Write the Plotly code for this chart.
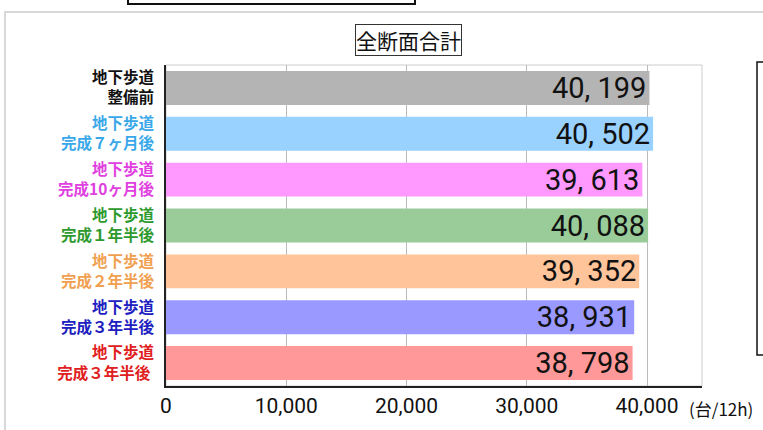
import plotly.graph_objects as go

categories = ["地下歩道<br>整備前", "地下歩道<br>完成７ヶ月後", "地下歩道<br>完成10ヶ月後",
              "地下歩道<br>完成１年半後", "地下歩道<br>完成２年半後", "地下歩道<br>完成３年半後",
              "地下歩道<br>完成３年半後 "]
values = [40199, 40502, 39613, 40088, 39352, 38931, 38798]
bar_colors = ["#B4B4B4", "#99D2FF", "#FF99FF", "#99CC99", "#FFC499", "#9999FF", "#FF9999"]
label_colors = ["#111111", "#3AA8E8", "#E040E0", "#2E9A2E", "#F0A050", "#2020C0", "#E02020"]
tick_vals = [0, 10000, 20000, 30000, 40000]
tick_text = ["0", "10,000", "20,000", "30,000", "40,000"]
title_text = "全断面合計"
unit_text = "(台/12h)"

value_text = [f"{v:,}".replace(",", ", ") for v in values]
ids = list(range(len(categories)))
ytext = [f"<span style='color:{c}'>{t}</span>" for t, c in zip(categories, label_colors)]

NUMFONT = "Roboto, Liberation Sans, sans-serif"

fig = go.Figure(go.Bar(
    x=values, y=ids, orientation="h",
    marker=dict(color=bar_colors, line=dict(width=0)),
    text=value_text, textposition="inside", insidetextanchor="end",
    constraintext="none",
    textfont=dict(family=NUMFONT, size=29, color="#111111"),
    cliponaxis=False,
))

L, R, T, B = 166, 61, 65, 44
W, H = 763, 430
pw, ph = W - L - R, H - T - B

def px(x):
    return (x - L) / pw

def py(y):
    return (H - B - y) / ph

fig.update_layout(
    width=W, height=H,
    margin=dict(l=L, r=R, t=T, b=B),
    paper_bgcolor="white", plot_bgcolor="white",
    showlegend=False, bargap=0.26,
    font=dict(family="Noto Sans CJK JP"),
    xaxis=dict(range=[0, 44570], tickvals=tick_vals, ticktext=tick_text,
               showgrid=True, gridcolor="#BBBBBB", gridwidth=1,
               showline=True, linecolor="#222222", linewidth=2, mirror=False,
               ticks="", zeroline=False,
               tickfont=dict(family=NUMFONT, size=21, color="#111111")),
    yaxis=dict(tickvals=ids, ticktext=ytext, autorange="reversed",
               showline=True, linecolor="#222222", linewidth=2, ticks="",
               showgrid=False, zeroline=False, ticklabelstandoff=7,
               tickfont=dict(family="Noto Sans CJK JP", size=15.5, weight=700)),
    shapes=[
        dict(type="rect", xref="paper", yref="paper", x0=0, x1=1, y0=0, y1=1,
             line=dict(color="#CCCCCC", width=1), layer="below"),
        dict(type="rect", xref="paper", yref="paper", x0=px(5), x1=px(790), y0=py(460), y1=py(12),
             line=dict(color="#D8D8D8", width=2)),
        dict(type="rect", xref="paper", yref="paper", x0=px(128), x1=px(415), y0=py(4), y1=py(-20),
             line=dict(color="#111111", width=2)),
        dict(type="rect", xref="paper", yref="paper", x0=px(757), x1=px(800), y0=py(355), y1=py(62),
             line=dict(color="#111111", width=1.5)),
    ],
    annotations=[
        dict(text=title_text, xref="paper", yref="paper", x=px(408), y=py(40),
             xanchor="center", yanchor="middle",
             showarrow=False, font=dict(family="Noto Sans CJK JP", size=21, color="#111111"),
             bordercolor="#333333", borderwidth=1, borderpad=0, bgcolor="white"),
        dict(text=unit_text, xref="paper", yref="paper", x=px(687), y=py(408),
             xanchor="left", yanchor="middle", showarrow=False,
             font=dict(family="Noto Sans CJK JP", size=17, color="#111111")),
    ],
)

fig.write_html("out.html")
